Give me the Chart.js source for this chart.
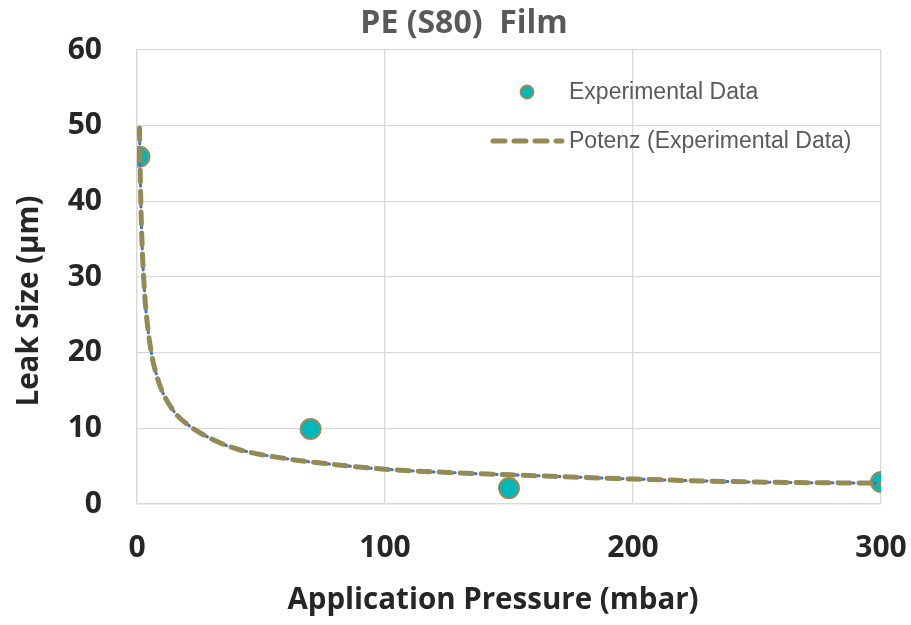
<!DOCTYPE html>
<html>
<head>
<meta charset="utf-8">
<script src="https://cdn.jsdelivr.net/npm/chart.js@4.4.1/dist/chart.umd.min.js"></script>
<style>
  html, body { margin: 0; padding: 0; background: #ffffff; }
  #wrap { width: 911px; height: 625px; }
</style>
</head>
<body>
<div id="wrap"><canvas id="c" width="911" height="625"></canvas></div>
<script>
// ---- data ----
const chartTitle = 'PE (S80)  Film';
const xAxisTitle = 'Application Pressure (mbar)';
const yAxisTitle = 'Leak Size (µm)';
const seriesName = 'Experimental Data';
const trendName = 'Potenz (Experimental Data)';

const pressure = [1, 70, 150, 300];
const leakSize = [45.9, 9.9, 2.1, 2.9];

// power trendline
const trendPressure = [1, 1.5, 2, 3, 4, 6, 8, 10, 15, 20, 30, 40, 60, 80, 100, 130, 160, 200, 250, 300];
const trendLeak     = [49.7, 40.5, 34.7, 28.2, 24.3, 19.6, 16.9, 15.0, 12.2, 10.6, 8.6, 7.3, 6.0, 5.2, 4.6, 4.1, 3.75, 3.3, 2.9, 2.75];

const xTicks = [0, 100, 200, 300];
const yTicks = [0, 10, 20, 30, 40, 50, 60];

// ---- styles ----
const pointFill = '#00B8BA';
const pointBorder = '#9C8A5B';
const trendColor = '#948A54';
const trendBlue = '#4472C4';
const gridColor = '#D9D9D9';

const toXY = (xs, ys) => xs.map((x, i) => ({ x: x, y: ys[i] }));

const overlayText = {
  id: 'overlayText',
  afterDraw(chart) {
    const ctx = chart.ctx;
    ctx.save();
    // axis titles
    ctx.fillStyle = '#262626';
    ctx.font = '700 29.5px "Open Sans"';
    ctx.textAlign = 'center';
    ctx.textBaseline = 'middle';
    ctx.fillText(xAxisTitle, 493, 601);
    ctx.save();
    ctx.translate(30, 301);
    ctx.rotate(-Math.PI / 2);
    ctx.fillText(yAxisTitle, 0, 0);
    ctx.restore();

    // legend
    ctx.font = '23px "Liberation Sans"';
    ctx.fillStyle = '#595959';
    ctx.textAlign = 'left';
    ctx.fillText(seriesName, 569, 93);
    ctx.fillText(trendName, 569, 142);

    ctx.beginPath();
    ctx.arc(527, 92, 6.5, 0, Math.PI * 2);
    ctx.fillStyle = pointFill;
    ctx.fill();
    ctx.lineWidth = 1.8;
    ctx.strokeStyle = pointBorder;
    ctx.stroke();

    ctx.beginPath();
    ctx.setLineDash([12, 9]);
    ctx.lineCap = 'round';
    ctx.lineWidth = 5;
    ctx.strokeStyle = trendColor;
    ctx.moveTo(493, 141);
    ctx.lineTo(562, 141);
    ctx.stroke();
    ctx.restore();
  }
};

function build() {
  new Chart(document.getElementById('c'), {
    type: 'scatter',
    data: {
      datasets: [
        {
          label: trendName,
          data: toXY(trendPressure, trendLeak),
          showLine: true,
          borderColor: trendColor,
          borderWidth: 5,
          borderDash: [12, 9],
          borderCapStyle: 'round',
          pointRadius: 0,
          cubicInterpolationMode: 'monotone',
          order: 0
        },
        {
          label: 'trend-blue',
          data: toXY(trendPressure, trendLeak),
          showLine: true,
          borderColor: trendBlue,
          borderWidth: 3,
          borderDash: [2, 5],
          borderCapStyle: 'round',
          pointRadius: 0,
          cubicInterpolationMode: 'monotone',
          order: 1
        },
        {
          label: seriesName,
          data: toXY(pressure, leakSize),
          backgroundColor: pointFill,
          borderColor: pointBorder,
          borderWidth: 2,
          pointRadius: 10,
          pointHoverRadius: 10,
          order: 2
        }
      ]
    },
    options: {
      responsive: false,
      animation: false,
      layout: { padding: { left: 47, right: 30, top: 0, bottom: 0 } },
      plugins: {
        legend: { display: false },
        tooltip: { enabled: false },
        title: {
          display: true,
          text: chartTitle,
          color: '#595959',
          font: { family: '"Open Sans"', size: 32, weight: '700', lineHeight: 1.2 },
          padding: { top: 5, bottom: 6.6 }
        }
      },
      scales: {
        x: {
          type: 'linear',
          min: xTicks[0],
          max: xTicks[xTicks.length - 1],
          afterBuildTicks(scale) { scale.ticks = xTicks.map(v => ({ value: v })); },
          afterFit(scale) { scale.height = 121; scale.paddingLeft = 0; scale.paddingRight = 0; },
          grid: { color: gridColor, lineWidth: 1.3, drawTicks: false },
          border: { color: gridColor, width: 1.3 },
          ticks: {
            color: '#262626',
            padding: 26,
            font: { family: '"Open Sans"', size: 30, weight: '700', lineHeight: 1.2 }
          }
        },
        y: {
          type: 'linear',
          min: yTicks[0],
          max: yTicks[yTicks.length - 1],
          afterBuildTicks(scale) { scale.ticks = yTicks.map(v => ({ value: v })); },
          afterFit(scale) { scale.width = 90; scale.paddingTop = 0; scale.paddingBottom = 0; },
          grid: { color: gridColor, lineWidth: 1.3, drawTicks: false },
          border: { color: gridColor, width: 1.3 },
          ticks: {
            color: '#262626',
            padding: 35,
            font: { family: '"Open Sans"', size: 30, weight: '700', lineHeight: 1.2 }
          }
        }
      }
    },
    plugins: [overlayText]
  });
}

Promise.all([
  document.fonts.load('700 30px "Open Sans"'),
  document.fonts.load('23px "Liberation Sans"')
]).then(build, build);
</script>
</body>
</html>
